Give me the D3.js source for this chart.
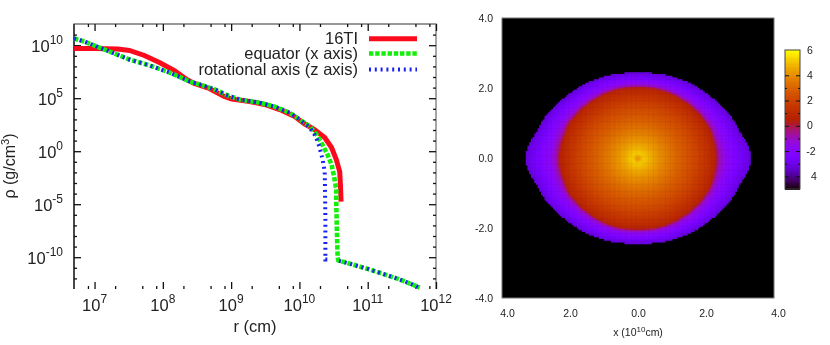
<!DOCTYPE html>
<html><head><meta charset="utf-8">
<script src="https://cdn.jsdelivr.net/npm/d3@7/dist/d3.min.js"></script>
<style>
html,body{margin:0;padding:0;background:#fff}
svg{display:block;filter:blur(0.45px)}
text{font-family:"Liberation Sans",Arial,sans-serif;fill:#222}
</style></head><body>
<svg id="c" width="830" height="345"></svg>
<script>
// ---- left panel data: log10 r (cm), log10 rho (g/cm3)
const seriesNames = ["16TI", "equator (x axis)", "rotational axis (z axis)"];
const redLogR  = [6.70,7.00,7.34,7.51,7.73,7.95,8.17,8.35,8.46,8.68,8.90,9.01,9.27,9.49,9.71,9.93,10.07,10.22,10.37,10.47,10.54,10.59,10.60,10.61];
const redLogD  = [9.69,9.69,9.64,9.50,9.03,8.37,7.61,6.76,6.39,5.92,5.16,4.92,4.69,4.41,3.93,3.27,2.61,2.05,1.29,0.35,-0.78,-1.92,-3.14,-4.75];
const greenLogR = [6.70,6.85,7.07,7.29,7.51,7.81,8.10,8.39,8.54,8.76,8.95,9.12,9.41,9.63,9.85,10.00,10.15,10.25,10.32,10.41,10.47,10.51,10.54,10.54,10.55,10.56,10.57,10.73,11.03,11.47,11.76];
const greenLogD = [10.63,10.35,9.78,9.22,8.65,8.08,7.42,6.58,6.29,5.82,5.25,4.88,4.59,4.22,3.65,3.00,2.33,1.58,0.82,-0.31,-1.25,-2.48,-3.62,-5.03,-7.86,-10.03,-10.31,-10.60,-11.16,-12.10,-12.86];
const blueLogR = [6.70,6.85,7.07,7.29,7.51,7.81,8.10,8.39,8.54,8.76,8.95,9.12,9.41,9.63,9.85,10.00,10.15,10.24,10.29,10.34,10.37,10.375,10.38,10.38,10.455,null,10.58,10.73,11.03,11.47,11.76];
const blueLogD = [10.63,10.35,9.78,9.22,8.65,8.08,7.42,6.58,6.29,5.82,5.25,4.88,4.59,4.22,3.65,3.00,2.24,1.39,0.44,-0.78,-1.92,-3.62,-6.44,-10.22,-10.22,null,-10.35,-10.60,-11.16,-12.10,-12.86];
const xMajorExp = [7,8,9,10,11,12];
const yMajorExp = [10,5,0,-5,-10];
const xMinorMant = [2,5,8];

// ---- right panel data (x, y in 10^10 cm, value = log density)
const shapeAngles  = [0,4,11,14,25,40,53,68,82,90];             // degrees from the x axis
const outerRadius  = [3.33,3.28,3.14,3.08,2.95,2.75,2.63,2.52,2.45,2.43];
const innerRadius  = [2.28,2.28,2.27,2.26,2.24,2.16,2.10,2.06,2.03,2.02];
const innerStops   = [0,0.03,0.07,0.12,0.25,0.5,0.75,0.9,1.0]; // fraction of inner radius
const innerValues  = [4.1,4.6,5.2,4.9,4.2,3.1,2.1,1.3,0.7];
const outerStops   = [0,0.12,0.3,0.5,0.8,1.0];                // fraction of envelope width
const outerValues  = [0.4,-0.9,-1.7,-2.1,-2.8,-3.2];
const hmXLabels = ["4.0","2.0","0.0","2.0","4.0"];
const hmXTicks  = [-4,-2,0,2,4];
const hmYLabels = ["4.0","2.0","0.0","-2.0","-4.0"];
const hmYTicks  = [4,2,0,-2,-4];
const cbTicks   = [6,4,2,0,-2,-4];
const cbLabels  = ["6","4","2","0","-2","4"];
const cbMinor   = [3,1,-1,-3];

const svg = d3.select("#c");
const X = d3.scaleLog().domain([5e6,1e12]).range([74,436]);
const Y = d3.scaleLog().domain([1e-13,1e12]).range([289,24]);

// frame
svg.append("path").attr("d",`M74,289V24H436V289`).attr("fill","none").attr("stroke","#777").attr("stroke-width",1.3);
svg.append("line").attr("x1",74).attr("x2",74).attr("y1",24).attr("y2",289).attr("stroke","#222").attr("stroke-width",1.4);

function ticks(axisFn, scale, vals, size, tr){
  const g = svg.append("g").attr("transform",tr)
    .call(axisFn(scale).tickValues(vals).tickSizeInner(size).tickSizeOuter(0).tickFormat(""));
  g.select(".domain").remove();
  g.selectAll("line").attr("stroke","#111").attr("stroke-width",1.3);
  return g;
}
const xMaj = xMajorExp.map(e=>10**e);
const yMaj = yMajorExp.map(e=>10**e);
const xMin = d3.range(6,12).flatMap(e=>xMinorMant.map(m=>m*10**e)).filter(v=>v>5.01e6&&v<1e12);
const yMin = d3.range(-13,12).map(e=>10**e).filter(v=>!yMajorExp.includes(Math.round(Math.log10(v)))&&v>1e-13);
ticks(d3.axisBottom,X,xMaj,-7,"translate(0,289)");
ticks(d3.axisBottom,X,xMin,-3,"translate(0,289)");
ticks(d3.axisTop,X,xMaj,-7,"translate(0,24)");
ticks(d3.axisTop,X,xMin,-3,"translate(0,24)");
ticks(d3.axisLeft,Y,yMaj,-7,"translate(74,0)");
ticks(d3.axisLeft,Y,yMin,-3,"translate(74,0)");
ticks(d3.axisRight,Y,yMaj,-7,"translate(436,0)");
ticks(d3.axisRight,Y,yMin,-3,"translate(436,0)");

function power(x,y,exp,anchor){
  const t = svg.append("text").attr("x",x).attr("y",y).attr("text-anchor",anchor).attr("font-size",16.5);
  t.append("tspan").text("10");
  t.append("tspan").attr("dy",-8).attr("font-size",12).text(exp);
}
xMajorExp.forEach(e=>power(X(10**e),311,e,"middle"));
yMajorExp.forEach(e=>power(63,Y(10**e)+6.5,e,"end"));
svg.append("text").attr("x",255).attr("y",332).attr("text-anchor","middle").attr("font-size",16.5).text("r (cm)");
const yl = svg.append("text").attr("transform","translate(15,166) rotate(-90)").attr("text-anchor","middle").attr("font-size",16);
yl.append("tspan").text("ρ (g/cm");
yl.append("tspan").attr("dy",-6).attr("font-size",11).text("3");
yl.append("tspan").attr("dy",6).text(")");

const lineGen = d3.line().defined(d=>d[0]!==null).x(d=>X(10**d[0])).y(d=>Y(10**d[1]));
const styles = [
  {rs:redLogR,ds:redLogD,c:"#fb0a1e",w:5,dash:null},
  {rs:greenLogR,ds:greenLogD,c:"#12f00a",w:4.6,dash:"4.4 1.8"},
  {rs:blueLogR,ds:blueLogD,c:"#1a22f0",w:4,dash:"2 3.8"}
];
styles.forEach(s=>{
  svg.append("path").datum(s.rs.map((r,i)=>[r,s.ds[i]])).attr("d",lineGen)
    .attr("fill","none").attr("stroke",s.c).attr("stroke-width",s.w).attr("stroke-dasharray",s.dash);
});
const legY=[38.7,53.5,69.5];
seriesNames.forEach((n,i)=>{
  svg.append("text").attr("x",358).attr("y",legY[i]+5.5).attr("text-anchor","end").attr("font-size",16.5).text(n);
  svg.append("line").attr("x1",369).attr("x2",417).attr("y1",legY[i]).attr("y2",legY[i])
    .attr("stroke",styles[i].c).attr("stroke-width",styles[i].w).attr("stroke-dasharray",styles[i].dash);
});

// ---- right panel
const HX = d3.scaleLinear().domain([-4,4]).range([502,774]);
const HY = d3.scaleLinear().domain([-4,4]).range([298,18]);
const palette = t=>d3.rgb(255*Math.sqrt(t),255*t*t*t,255*Math.max(0,Math.sin(2*Math.PI*t)))+"";
const color = d3.scaleSequential(palette).domain([-5,6]).clamp(true);
const outerAt = d3.scaleLinear().domain(shapeAngles).range(outerRadius);
const innerAt = d3.scaleLinear().domain(shapeAngles).range(innerRadius);
const innerVal = d3.scaleLinear().domain(innerStops).range(innerValues).clamp(true);
const outerVal = d3.scaleLinear().domain(outerStops).range(outerValues).clamp(true);

svg.append("rect").attr("x",HX(-4)).attr("y",HY(4)).attr("width",HX(4)-HX(-4)).attr("height",HY(-4)-HY(4))
  .attr("fill","#000").attr("stroke","#777").attr("stroke-width",1);

const step = 0.05;
const cells = [];
d3.range(-4,4,step).forEach(x=>d3.range(-4,4,step).forEach(y=>{
  const cx=x+step/2, cy=y+step/2;
  const r=Math.hypot(cx,cy);
  const a=Math.atan2(Math.abs(cy),Math.abs(cx))*180/Math.PI;
  const ro=outerAt(a), ri=innerAt(a);
  if(r>ro) return;
  cells.push({x,y,v: r<=ri ? innerVal(r/ri) : outerVal((r-ri)/(ro-ri))});
}));
svg.append("g").selectAll("rect").data(cells).join("rect")
  .attr("x",d=>HX(d.x)).attr("y",d=>HY(d.y+step))
  .attr("width",HX(step)-HX(0)+0.5).attr("height",HY(0)-HY(step)+0.5)
  .attr("fill",d=>color(d.v));

const hx = svg.append("g").attr("transform","translate(0,317)")
  .call(d3.axisBottom(HX).tickValues(hmXTicks).tickSize(0).tickPadding(0).tickFormat((d,i)=>hmXLabels[i]));
hx.select(".domain").remove();
hx.selectAll("text").attr("y",0).attr("dy",0).attr("font-size",10.5).attr("font-family",null)
  .attr("dx",(d,i)=>i===0?5:i===4?4:0);
const hy = svg.append("g").attr("transform","translate(493,0)")
  .call(d3.axisLeft(HY).tickValues(hmYTicks).tickSize(0).tickPadding(0).tickFormat((d,i)=>hmYLabels[i]));
hy.select(".domain").remove();
hy.selectAll("text").attr("font-size",10.5).attr("font-family",null);

const t2 = svg.append("text").attr("x",638).attr("y",336).attr("text-anchor","middle").attr("font-size",10.5);
t2.append("tspan").text("x (10");
t2.append("tspan").attr("dy",-4).attr("font-size",8).text("10");
t2.append("tspan").attr("dy",4).text("cm)");

// colour bar
const CB = d3.scaleLinear().domain([-5,6]).range([189,50]);
const cbSteps = d3.range(-5,6,0.1);
svg.append("g").attr("shape-rendering","crispEdges").selectAll("rect").data(cbSteps).join("rect")
  .attr("x",785).attr("width",15).attr("y",d=>CB(d+0.1)).attr("height",d=>CB(d)-CB(d+0.1)+0.5).attr("fill",d=>color(d+0.05));
svg.append("rect").attr("x",785).attr("y",50).attr("width",15).attr("height",139).attr("fill","none").attr("stroke","#444").attr("stroke-width",1);
const cbG = (fn,vals,size,tx)=>{
  const g=svg.append("g").attr("transform",`translate(${tx},0)`).call(fn(CB).tickValues(vals).tickSizeInner(size).tickSizeOuter(0).tickFormat(""));
  g.select(".domain").remove(); g.selectAll("line").attr("stroke","#111").attr("stroke-width",1);
};
cbG(d3.axisLeft,cbTicks.filter(v=>v<6),-4,785);
cbG(d3.axisLeft,cbMinor,-2,785);
cbG(d3.axisRight,cbTicks.filter(v=>v<6),-4,800);
cbG(d3.axisRight,cbMinor,-2,800);
svg.append("g").selectAll("text").data(cbTicks).join("text")
  .attr("x",(d,i)=>i===5?814:i===4?811:810).attr("y",d=>CB(d)+3.5).attr("text-anchor","middle").attr("font-size",10.5)
  .text((d,i)=>cbLabels[i]);
</script>
</body></html>
